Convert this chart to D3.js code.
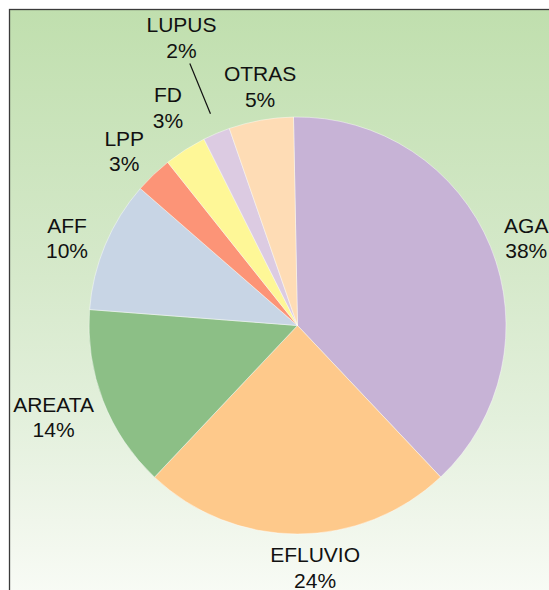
<!DOCTYPE html>
<html>
<head>
<meta charset="utf-8">
<script src="https://cdn.jsdelivr.net/npm/d3@7"></script>
<style>
  html, body { margin: 0; padding: 0; background: #ffffff; }
  svg { display: block; }
</style>
</head>
<body>
<svg id="chart" width="549" height="590"></svg>
<script>
// ---- data ----
const categories = ["AGA", "EFLUVIO", "AREATA", "AFF", "LPP", "FD", "LUPUS", "OTRAS"];
const values = [38.3, 24.1, 14.2, 10.2, 2.9, 3.3, 2.1, 5.0];
const percentLabels = ["38%", "24%", "14%", "10%", "3%", "3%", "2%", "5%"];
const colors = ["#c7b3d6", "#fec98b", "#8cbf86", "#c8d5e5", "#fc9477", "#fef797", "#dccbe2", "#fedcb5"];

// ---- layout config ----
const W = 549, H = 590;
const cx = 297.5, cy = 325.5, radius = 208.5;
const startDeg = -1.1;
const labelRadius = 245;
const labelNudge = {          // [dx, dy] fine adjustments of label blocks
  AGA: [2, 5], EFLUVIO: [17.5, -3], AREATA: [-15.4, 3.3], AFF: [-4.5, 7],
  LPP: [-3.9, 2.5], FD: [2.3, -11.3], LUPUS: [-20.8, -62.5], OTRAS: [5.5, 2]
};
const leaderFor = { LUPUS: 229 };
const fontSize = 21, lineGap = 25.5;

const svg = d3.select("#chart");

// background gradient
const defs = svg.append("defs");
const grad = defs.append("linearGradient").attr("id", "bg")
  .attr("x1", 0).attr("y1", 0).attr("x2", 0).attr("y2", 1);
[[0, "#c0dfae"], [0.44, "#d6e9cb"], [0.67, "#e3f0dc"], [0.84, "#f0f6eb"], [1, "#fbfdf9"]]
  .forEach(([o, c]) => grad.append("stop").attr("offset", o).attr("stop-color", c));

svg.append("rect")
  .attr("x", 9.5).attr("y", 9.5)
  .attr("width", W + 20).attr("height", H + 20)
  .attr("fill", "url(#bg)")
  .attr("stroke", "#3a3a3a").attr("stroke-width", 1.3);

const data = categories.map((c, i) => ({ name: c, value: values[i], label: percentLabels[i], color: colors[i] }));

const start = startDeg * Math.PI / 180;
const pie = d3.pie().sort(null).value(d => d.value)
  .startAngle(start).endAngle(start + 2 * Math.PI);
const arcs = pie(data);

const arc = d3.arc().innerRadius(0).outerRadius(radius);

const g = svg.append("g").attr("transform", `translate(${cx},${cy})`);

g.selectAll("path.slice").data(arcs).enter().append("path")
  .attr("class", "slice")
  .attr("d", arc)
  .attr("fill", d => d.data.color)
  .attr("stroke", "rgba(255,255,255,0.55)")
  .attr("stroke-width", 0.8);

function polar(a, r) { return [r * Math.sin(a), -r * Math.cos(a)]; }

arcs.forEach(d => {
  const mid = (d.startAngle + d.endAngle) / 2;
  const [px, py] = polar(mid, labelRadius);
  const nd = labelNudge[d.data.name] || [0, 0];
  const lx = px + nd[0], ly = py + nd[1];
  const b1 = ly - 5.25; // first baseline so that two-line block is centred
  const t = g.append("text")
    .attr("text-anchor", "middle")
    .attr("font-family", "'Liberation Sans', Arial, Helvetica, sans-serif")
    .attr("font-size", fontSize)
    .attr("fill", "#111");
  t.append("tspan").attr("x", lx).attr("y", b1).text(d.data.name);
  t.append("tspan").attr("x", lx).attr("y", b1 + lineGap).text(d.data.label);

  if (leaderFor[d.data.name]) {
    const [ex, ey] = polar(mid + 0.009, leaderFor[d.data.name]);
    g.append("line")
      .attr("x1", lx + 8.3).attr("y1", b1 + lineGap + 6)
      .attr("x2", ex).attr("y2", ey)
      .attr("stroke", "#111").attr("stroke-width", 1.2);
  }
});
</script>
</body>
</html>
